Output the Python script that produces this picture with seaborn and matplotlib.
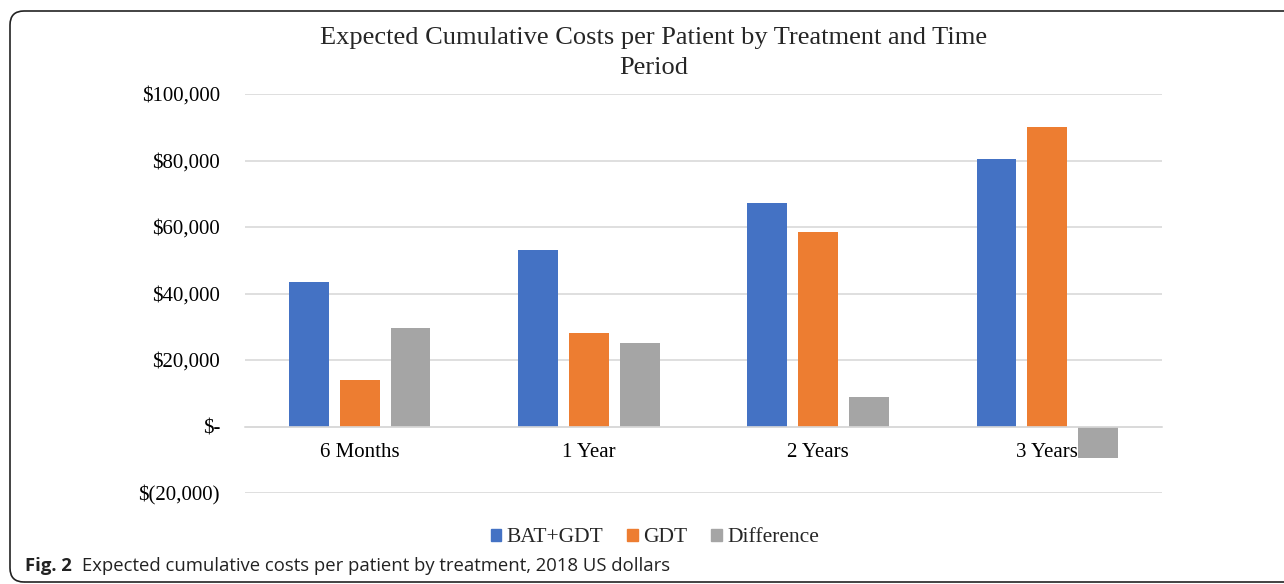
import matplotlib
matplotlib.use('Agg')
import matplotlib.pyplot as plt
import seaborn as sns
import pandas as pd
from matplotlib.patches import FancyBboxPatch, Patch
from matplotlib.ticker import FuncFormatter
from matplotlib.transforms import IdentityTransform

periods = ['6 Months', '1 Year', '2 Years', '3 Years']
series_names = ['BAT+GDT', 'GDT', 'Difference']
bat_gdt = [43400, 53000, 67200, 80400]
gdt = [13900, 28000, 58400, 90100]
difference = [29500, 25000, 8800, -9600]
colors = ['#4472C4', '#ED7D31', '#A5A5A5']

df = pd.DataFrame({
    'period': periods * 3,
    'cost': bat_gdt + gdt + difference,
    'series': [s for s in series_names for _ in periods],
})

sns.set_style('white')
serif = ['Liberation Serif', 'DejaVu Serif']

W, H, DPI = 1284, 584, 100
fig = plt.figure(figsize=(W / DPI, H / DPI), dpi=DPI)
ax = fig.add_axes([245 / W, 1 - 493 / H, (1162 - 245) / W, (493 - 94) / H])

sns.barplot(data=df, x='period', y='cost', hue='series', palette=colors,
            width=0.667, gap=0.22, saturation=1, errorbar=None,
            linewidth=0, ax=ax, legend=False)

ax.set_xlim(-0.5, 3.5)
ax.set_ylim(-20000, 100000)
ax.set_yticks(range(-20000, 100001, 20000))


def money(v, pos):
    if v == 0:
        return '$-'
    if v < 0:
        return '$({:,.0f})'.format(-v)
    return '${:,.0f}'.format(v)


ax.yaxis.set_major_formatter(FuncFormatter(money))
ax.set_xlabel('')
ax.set_ylabel('')
for s in ['top', 'right', 'left']:
    ax.spines[s].set_visible(False)
ax.spines['bottom'].set_position(('data', 0))
ax.spines['bottom'].set_color('#D9D9D9')
ax.spines['bottom'].set_linewidth(1.2)
ax.grid(axis='y', color='#D9D9D9', linewidth=1.2)
ax.set_axisbelow(True)
ax.tick_params(axis='both', length=0, labelsize=15, colors='#000000')
ax.tick_params(axis='y', pad=18)
ax.tick_params(axis='x', pad=12)
for lab in ax.get_xticklabels() + ax.get_yticklabels():
    lab.set_family(serif)

fig.text(654 / W, 1 - 38 / H, 'Expected Cumulative Costs per Patient by Treatment and Time',
         ha='center', va='center', fontsize=19, family=serif)
fig.text(654 / W, 1 - 68 / H, 'Period',
         ha='center', va='center', fontsize=19, family=serif)

handles = [Patch(color=c, label=n) for c, n in zip(colors, series_names)]
fig.legend(handles=handles, loc='center', bbox_to_anchor=(655 / W, 1 - 538 / H),
           ncol=3, frameon=False, prop={'family': serif, 'size': 15.5},
           handlelength=0.5, handleheight=0.5, handletextpad=0.25, columnspacing=1.1)

# rounded frame around the figure panel
frame = FancyBboxPatch((10, 2), W + 40, H - 13, boxstyle='round,pad=0,rounding_size=14',
                       transform=IdentityTransform(), fill=False, edgecolor='#222222',
                       linewidth=1.2)
fig.patches.append(frame)

cap1 = fig.text(25 / W, 1 - 566 / H, 'Fig. 2', fontsize=13.3, fontweight='bold',
                family=['Open Sans', 'DejaVu Sans'], va='center', ha='left', color='#222222')
fig.canvas.draw()
bb = cap1.get_window_extent(fig.canvas.get_renderer())
fig.text((bb.x1 + 10) / W, 1 - 566 / H,
         'Expected cumulative costs per patient by treatment, 2018 US dollars',
         fontsize=13.3, family=['Open Sans', 'DejaVu Sans'], va='center', ha='left',
         color='#222222')

fig.savefig('out.png', dpi=DPI)
